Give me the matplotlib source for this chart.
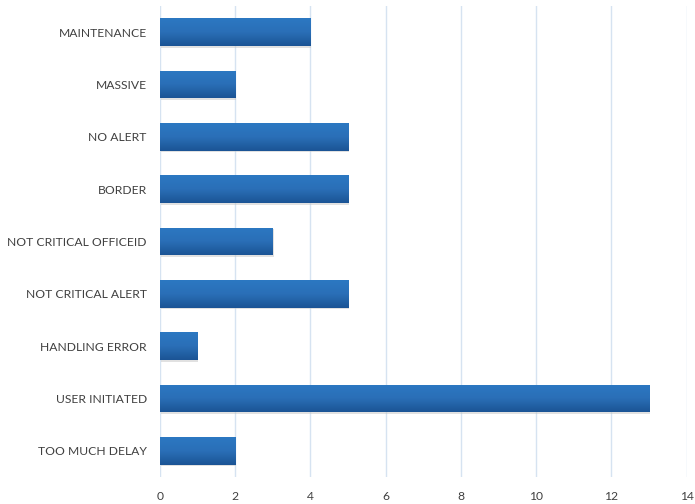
import matplotlib
matplotlib.use("Agg")
import matplotlib.pyplot as plt
import numpy as np
from matplotlib.colors import LinearSegmentedColormap
from matplotlib.patches import Rectangle

categories = [
    "MAINTENANCE",
    "MASSIVE",
    "NO ALERT",
    "BORDER",
    "NOT CRITICAL OFFICEID",
    "NOT CRITICAL ALERT",
    "HANDLING ERROR",
    "USER INITIATED",
    "TOO MUCH DELAY",
]
counts = [4, 2, 5, 5, 3, 5, 1, 13, 2]
x_ticks = [0, 2, 4, 6, 8, 10, 12, 14]

plt.rcParams["font.family"] = ["Lato", "DejaVu Sans"]

fig = plt.figure(figsize=(6.95, 5.04), dpi=100)
ax = fig.add_axes([0.2302, 0.0536, 0.7578, 0.9345])

y = np.arange(len(categories))
bars = ax.barh(y, counts, height=0.53, color="#2566ad", zorder=2)

# vertical gradient fill + soft shadow for each bar
grad = LinearSegmentedColormap.from_list("bar", ["#2c78c2", "#2a6fb7", "#1b5495"])
ramp = np.linspace(0, 1, 64).reshape(-1, 1)
for b in bars:
    x0, y0, w, h = b.get_x(), b.get_y(), b.get_width(), b.get_height()
    shadow = Rectangle((x0 + 0.02, y0 + 0.03), w, h, color="#c4c4c4", alpha=0.5,
                       zorder=1, lw=0)
    ax.add_patch(shadow)
    im = ax.imshow(ramp, cmap=grad, aspect="auto", extent=(x0, x0 + w, y0 + h, y0),
                   zorder=3, interpolation="bilinear")
    im.set_clip_path(b)

ax.set_xlim(0, 14)
ax.set_ylim(len(categories) - 0.5, -0.5)
ax.set_xticks(x_ticks)
ax.set_yticks(y)
ax.set_yticklabels(categories)
ax.tick_params(axis="both", length=0, labelsize=8.7, colors="#404040")
ax.tick_params(axis="y", pad=9.5)
ax.tick_params(axis="x", pad=10)
ax.grid(axis="x", color="#d6e3f1", lw=1, zorder=0)
ax.set_axisbelow(True)
for s in ax.spines.values():
    s.set_visible(False)

fig.savefig("out.png", dpi=100)
